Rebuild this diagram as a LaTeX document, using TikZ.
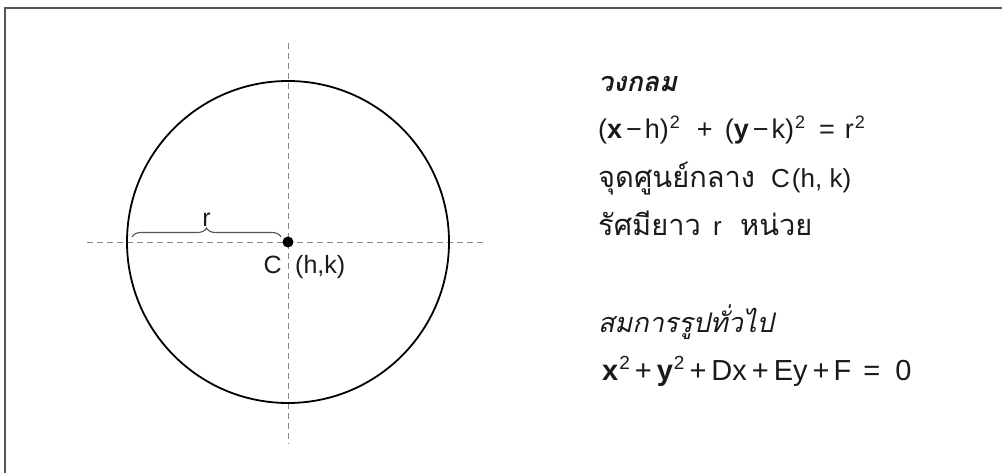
\documentclass[tikz,border=0pt]{standalone}
\usepackage{fontspec}
\setmainfont{Liberation Sans}
\newfontfamily\thaifont[Script=Thai]{Loma}
\usetikzlibrary{decorations.pathreplacing}
\definecolor{framegray}{HTML}{555555}
\definecolor{dashgray}{HTML}{8A8A8A}
\definecolor{inkc}{HTML}{1A1A1A}
\tikzset{
  guide/.style={draw=dashgray, line width=0.9pt, dash pattern=on 6pt off 4pt},
  txt/.style={anchor=base west, inner sep=0pt, text=inkc},
  lbl/.style={inner sep=0pt, font=\fontsize{25}{29}\selectfont, text=inkc},
}
\newcommand{\hs}[1]{\hspace*{#1pt}}
\newcommand{\supa}[1]{\raisebox{10pt}{\fontsize{18}{21}\selectfont #1}}
\newcommand{\supb}[1]{\raisebox{10.5pt}{\fontsize{19}{22}\selectfont #1}}
\newcommand{\thb}[1]{{\thaifont\fontsize{29}{33}\selectfont #1}}
\begin{document}
\begin{tikzpicture}[x=1pt,y=-1pt]
\useasboundingbox (0,0) rectangle (1002,473);
\begin{scope}
\clip (0,0) rectangle (1002,473);
\draw[framegray, line width=1.5pt] (5,8) rectangle (1012,490);
\end{scope}
% guides
\coordinate (c) at (288,242);
\coordinate (vt) at (288,43);
\coordinate (vb) at (288,444);
\coordinate (hl) at (87,242);
\coordinate (hr) at (487,242);
\draw[guide] (vt) -- (vb);
\draw[guide] (hl) -- (hr);
% circle
\draw[black, line width=1.8pt] (c) circle (161);
\fill[black] (c) circle (5.5);
% brace
\coordinate (b1) at (132,237);
\coordinate (b2) at (281,237);
\draw[decorate, decoration={brace, amplitude=9pt}, draw=framegray, line width=1.1pt] (b1) -- (b2) node[midway, above=10pt, lbl] (rl) {r};
\node[anchor=base east, lbl] (cl) at (282,274) {C};
\node[anchor=base west, lbl] (hk) at (295,274) {(h,k)};
% text block
\node[txt, font=\fontsize{27}{31}\thaifont\bfseries\itshape] (t1) at (598,92) {วงกลม};
\node[txt, font=\fontsize{27}{31}\selectfont] (t2) at (598,139)
  {(\textbf{x}\hs{4}−\hs{3}h)\hs{1}\supa{2}\hs{17}+\hs{12}(\textbf{y}\hs{4}−\hs{3}k)\hs{1}\supa{2}\hs{14}=\hs{10}r\hs{1}\supa{2}};
\node[txt, font=\fontsize{26}{30}\selectfont] (t3) at (598,188)
  {\makebox[173pt][l]{\thb{จุดศูนย์กลาง}}C\hs{2}(h, k)};
\node[txt, font=\fontsize{26}{30}\selectfont] (t4) at (598,236)
  {\makebox[115pt][l]{\thb{รัศมียาว}}\makebox[27pt][l]{r}\thb{หน่วย}};
\node[txt, font=\fontsize{27}{31}\thaifont\itshape] (t5) at (598,332) {สมการรูปทั่วไป};
\node[txt, font=\fontsize{29}{33}\selectfont] (t6) at (602,380)
  {\textbf{x}\hs{1}\supb{2}\hs{5}+\hs{5}\textbf{y}\hs{1}\supb{2}\hs{5}+\hs{5}Dx\hs{5}+\hs{5}Ey\hs{5}+\hs{4}F\hs{12}=\hs{15}0};
\end{tikzpicture}
\end{document}
